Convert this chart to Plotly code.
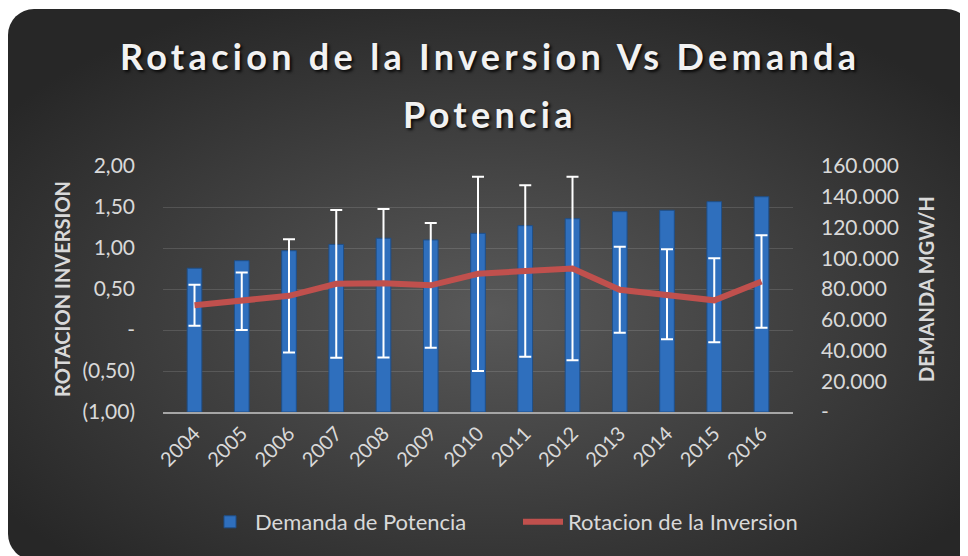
import base64
import plotly.graph_objects as go

years = ["2004", "2005", "2006", "2007", "2008", "2009", "2010",
         "2011", "2012", "2013", "2014", "2015", "2016"]
demanda = [93500, 98400, 104900, 109000, 113000, 111900, 116200,
           121200, 125700, 130300, 131200, 136800, 140000]
rotacion = [0.301, 0.350, 0.417, 0.563, 0.571, 0.545, 0.685,
            0.720, 0.750, 0.491, 0.435, 0.362, 0.591]
rotacion_err = [0.25, 0.35, 0.69, 0.90, 0.905, 0.76, 1.185,
                1.045, 1.12, 0.524, 0.549, 0.512, 0.565]

left_tickvals = [-1.0, -0.5, 0.0, 0.5, 1.0, 1.5, 2.0]
left_ticktext = ["(1,00)", "(0,50)", "-", "0,50", "1,00", "1,50", "2,00"]
right_tickvals = [0, 20000, 40000, 60000, 80000, 100000, 120000, 140000, 160000]
right_ticktext = ["-", "20.000", "40.000", "60.000", "80.000",
                  "100.000", "120.000", "140.000", "160.000"]

title_line1 = "Rotacion de la Inversion Vs Demanda"
title_line2 = "Potencia"

# page is drawn with an 8px body margin, so the figure is 960x548
W, H = 960, 548
ML, MR, MT, MB = 155, 175, 158, 144
PW, PH = W - ML - MR, H - MT - MB

FONT = "Lato"
TXT = "#d9d9d9"

# background: rounded rectangle with radial gradient
bx0, by0, bw, bh = 0, 1, 964, 551
svg = (
    f'<svg xmlns="http://www.w3.org/2000/svg" width="{bw}" height="{bh}" '
    f'viewBox="0 0 {bw} {bh}" preserveAspectRatio="none">'
    '<defs><radialGradient id="g" cx="50%" cy="55%" r="62%">'
    '<stop offset="0" stop-color="#595959"/>'
    '<stop offset="1" stop-color="#272727"/></radialGradient></defs>'
    f'<rect x="0" y="0" width="{bw}" height="{bh}" rx="26" ry="26" fill="url(#g)"/></svg>'
)
bg_src = "data:image/svg+xml;base64," + base64.b64encode(svg.encode()).decode()


def px_x(x):
    return (x - ML) / PW


def px_y(y):
    return 1 + (MT - y) / PH


fig = go.Figure()
fig.add_trace(go.Bar(
    x=years, y=demanda, name="Demanda de Potencia",
    marker=dict(color="#2f6fbd", line=dict(color="#1f4f88", width=1)),
    width=0.31, yaxis="y",
))
fig.add_trace(go.Scatter(
    x=years, y=rotacion, name="Rotacion de la Inversion",
    mode="lines", line=dict(color="#c0504d", width=6),
    error_y=dict(type="data", array=rotacion_err, symmetric=True,
                 color="#ffffff", thickness=2, width=6),
    yaxis="y2",
))

title_font = dict(family=FONT, size=36, color="#f2f2f2", weight="bold",
                  shadow="2px 2px 3px rgba(0,0,0,0.85)")
fig.add_annotation(
    text=f'<span style="letter-spacing:4.3px">{title_line1}</span>',
    xref="paper", yref="paper", x=px_x(482), y=px_y(48),
    xanchor="center", yanchor="middle", showarrow=False, font=title_font,
)
fig.add_annotation(
    text=f'<span style="letter-spacing:4.3px">{title_line2}</span>',
    xref="paper", yref="paper", x=px_x(482), y=px_y(106),
    xanchor="center", yanchor="middle", showarrow=False, font=title_font,
)

fig.update_layout(
    width=W, height=H,
    margin=dict(l=ML, r=MR, t=MT, b=MB),
    paper_bgcolor="#ffffff",
    plot_bgcolor="rgba(0,0,0,0)",
    font=dict(family=FONT, color=TXT, size=20),
    bargap=0.69,
    xaxis=dict(
        type="category", tickangle=-45, showgrid=False,
        showline=True, linecolor="#a6a6a6", linewidth=2,
        ticks="", tickfont=dict(size=20, color=TXT),
    ),
    yaxis=dict(
        side="right", range=[0, 160000], tickvals=right_tickvals,
        ticktext=right_ticktext, showgrid=False, zeroline=False,
        tickfont=dict(size=21, color=TXT), ticklabelstandoff=27,
        title=dict(text="<b>DEMANDA MGW/H</b>", font=dict(size=20, color=TXT),
                   standoff=21),
    ),
    yaxis2=dict(
        overlaying="y", side="left", range=[-1, 2],
        tickvals=left_tickvals, ticktext=left_ticktext,
        showgrid=True, gridcolor="rgba(255,255,255,0.13)", gridwidth=1,
        zeroline=False, tickfont=dict(size=21, color=TXT),
        ticklabelstandoff=27,
        title=dict(text="<b>ROTACION INVERSION</b>", font=dict(size=20, color=TXT),
                   standoff=6),
    ),
    legend=dict(
        orientation="h", x=px_x(197), xanchor="left", y=px_y(514), yanchor="middle",
        font=dict(size=22, color=TXT), bgcolor="rgba(0,0,0,0)",
        itemwidth=40, entrywidth=258, entrywidthmode="pixels",
    ),
    images=[dict(
        source=bg_src, xref="paper", yref="paper",
        x=px_x(bx0), y=px_y(by0),
        sizex=bw / PW, sizey=bh / PH,
        xanchor="left", yanchor="top", sizing="stretch", layer="below",
    )],
)

fig.write_html("out.html")
